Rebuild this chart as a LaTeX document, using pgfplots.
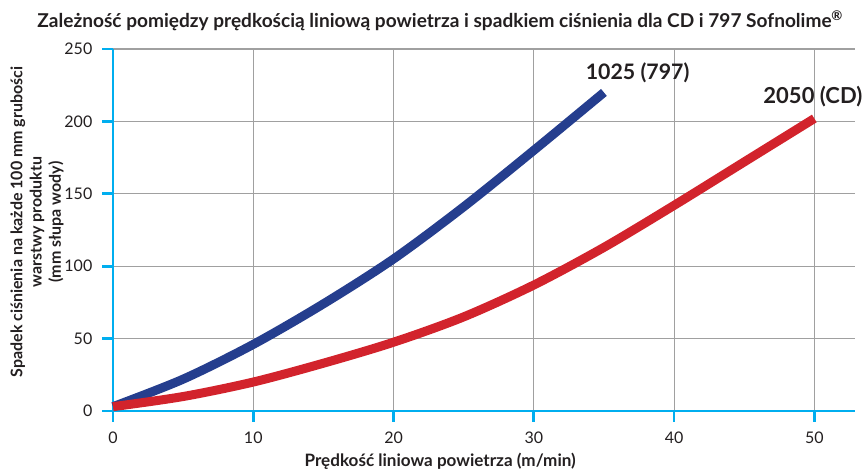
\documentclass[border=0pt]{standalone}
\usepackage{pgfplots}
\pgfplotsset{compat=1.18}
\usepackage{fontspec}
\setmainfont{Lato}
\definecolor{axcyan}{HTML}{00AEEF}
\definecolor{cblue}{HTML}{253E8E}
\definecolor{cred}{HTML}{D2232C}
\definecolor{txt}{HTML}{231F20}
\definecolor{gridg}{HTML}{A0A0A0}
\begin{document}
\begin{tikzpicture}
\begin{axis}[
  scale only axis,
  width=556.5pt, height=271.5pt,
  xmin=0, xmax=52.9, ymin=0, ymax=250,
  axis x line=bottom, axis y line=left,
  axis line style={-, axcyan, line width=2pt},
  xtick={0,10,20,30,40,50},
  ytick={0,50,100,150,200,250},
  tick align=outside,
  major tick length=8pt,
  tick style={axcyan, line width=2pt},
  grid=major,
  major grid style={gridg, line width=0.8pt},
  ticklabel style={font=\fontsize{12}{13}\selectfont, text=txt},
  /pgf/number format/assume math mode=true,
  xticklabel style={yshift=-4pt},
  yticklabel style={xshift=-4pt},
  clip=false,
]
\addplot[cblue, line width=6.75pt, smooth, tension=0.5] coordinates {
(0,3) (5,22) (10,46) (15,74) (20,105) (25,141) (30,180) (35,220)};
\addplot[cred, line width=6.75pt, smooth, tension=0.5] coordinates {
(0,3) (5,10) (10,20) (15,33) (20,47.5) (25,65) (30,87) (35,113) (40,142) (45,172) (50,202)};
\node[font=\bfseries\fontsize{16}{18}\selectfont, text=txt] at (axis cs:37.4,233.4) {1025 (797)};
\node[font=\bfseries\fontsize{16.5}{18}\selectfont, text=txt] at (axis cs:49.9,216.8) {2050 (CD)};
\node[font=\bfseries\fontsize{14.3}{16}\selectfont, text=txt] at ([yshift=21pt]rel axis cs:0.441,1) {Zależność pomiędzy prędkością liniową powietrza i spadkiem ciśnienia dla CD i 797 Sofnolime\textsuperscript{\textregistered}};
\node[font=\bfseries\fontsize{12.8}{14}\selectfont, text=txt] at ([yshift=-38pt]rel axis cs:0.441,0) {Prędkość liniowa powietrza (m/min)};
\node[font=\bfseries\fontsize{12}{14.5}\selectfont, text=txt, rotate=90, align=center] at ([xshift=-57pt]rel axis cs:0,0.522) {Spadek ciśnienia na każde 100 mm grubości\\warstwy produktu\\(mm słupa wody)};
\end{axis}
\pgfresetboundingbox
\path[use as bounding box] (-84.75pt,-45.75pt) rectangle (566.25pt,308.25pt);
\end{tikzpicture}
\end{document}
